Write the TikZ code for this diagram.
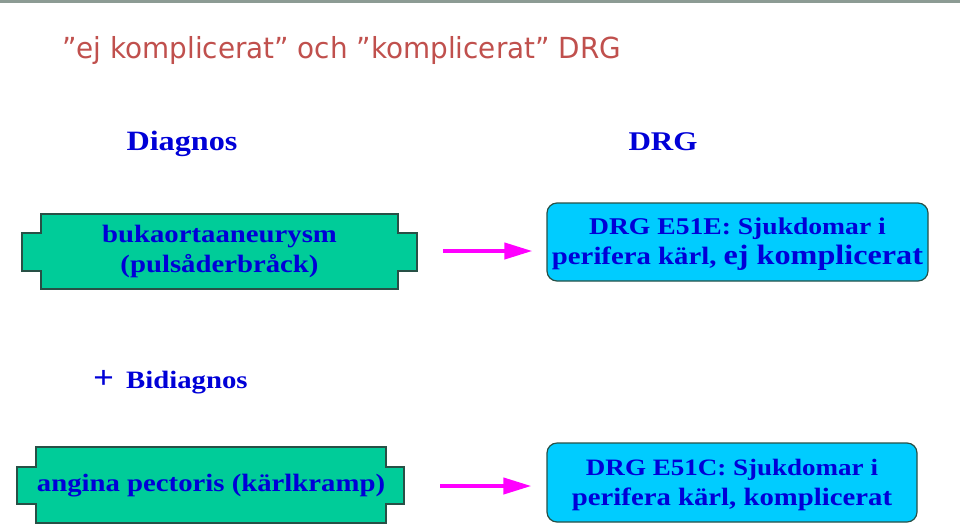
\documentclass[tikz,border=0pt]{standalone}
\usepackage{fontspec}
\setmainfont{Liberation Serif}
\newfontfamily\titlefont[FakeStretch=0.96]{DejaVu Sans}
\newfontfamily\boxfont[FakeStretch=1.15]{Liberation Serif}
\usetikzlibrary{arrows.meta}
\definecolor{titlered}{RGB}{192,80,77}
\definecolor{txtblue}{RGB}{0,0,215}
\definecolor{boxgreen}{RGB}{0,204,153}
\definecolor{boxcyan}{RGB}{0,204,255}
\definecolor{edge}{RGB}{40,80,70}
\definecolor{topbar}{RGB}{140,155,148}
\definecolor{arrmag}{RGB}{255,0,255}
\newcommand{\fsz}[2]{\fontsize{#1}{#2}\selectfont}
\tikzset{
  lbl/.style={text=txtblue, font=\boxfont\bfseries\fontsize{25}{30}\selectfont, align=center, inner sep=0pt},
  head/.style={text=txtblue, font=\boxfont\bfseries\fontsize{28}{32}\selectfont, inner sep=0pt},
  notched/.style={fill=boxgreen, draw=edge, line width=1.2pt},
  rbox/.style={fill=boxcyan, draw=edge, line width=1.2pt, rounded corners=10pt},
  arr/.style={draw=arrmag, line width=4pt, -{Triangle[length=28pt,width=16pt]}}
}
\begin{document}
\begin{tikzpicture}[x=1pt,y=-1pt]
\useasboundingbox (0,0) rectangle (960,528);
\fill[topbar] (0,0) rectangle (960,3);
\node[anchor=base west, text=titlered, font=\titlefont\fontsize{29}{34}\selectfont, inner sep=0pt] (title) at (62,58) {”ej komplicerat” och ”komplicerat” DRG};
\node[head] (hdiag) at (182,144) {Diagnos};
\node[head, font=\boxfont\bfseries\fontsize{27}{32}\selectfont] (hdrg) at (663,142) {DRG};
% box 1
\draw[notched] (22,233) -- (41,233) -- (41,214) -- (398,214) -- (398,233) -- (417,233) -- (417,271) -- (398,271) -- (398,289) -- (41,289) -- (41,271) -- (22,271) -- cycle;
\node[minimum width=357pt, minimum height=75pt, inner sep=0pt] (b1) at (219.5,251) {};
\node[lbl] (t1) at (b1.center) {bukaortaaneurysm\\(pulsåderbråck)};
% box 2
\node[rbox, minimum width=381pt, minimum height=78pt, inner sep=0pt] (b2) at (737.5,242) {};
\node[lbl, yshift=-2pt] (t2) at (b2.center) {\fsz{24}{30}DRG E51E: Sjukdomar i\\\fsz{25}{33}perifera kärl, \fsz{28}{33}ej komplicerat};
\draw[arr] ([xshift=45pt]b1.east) -- ([xshift=-14pt]b2.west |- b1.east);
% bidiagnos
\node[head, anchor=west] (hbi) at (93,382) {\fontsize{32}{32}\selectfont +\hspace{12pt}\fontsize{25}{28}\selectfont Bidiagnos};
% box 3
\draw[notched] (17,467) -- (36,467) -- (36,447) -- (386,447) -- (386,467) -- (404,467) -- (404,504) -- (386,504) -- (386,523) -- (36,523) -- (36,504) -- (17,504) -- cycle;
\node[minimum width=350pt, minimum height=76pt, inner sep=0pt] (b3) at (211,486) {};
\node[lbl] (t3) at (b3.center) {angina pectoris (kärlkramp)};
% box 4
\node[rbox, minimum width=370pt, minimum height=79pt, inner sep=0pt] (b4) at (732,482.5) {};
\node[lbl, yshift=-2pt] (t4) at (b4.center) {\fsz{23.5}{30}DRG E51C: Sjukdomar i\\\fsz{25}{30}perifera kärl, komplicerat};
\draw[arr] ([xshift=54pt]b3.east) -- ([xshift=-15pt]b4.west |- b3.east);
\end{tikzpicture}
\end{document}
